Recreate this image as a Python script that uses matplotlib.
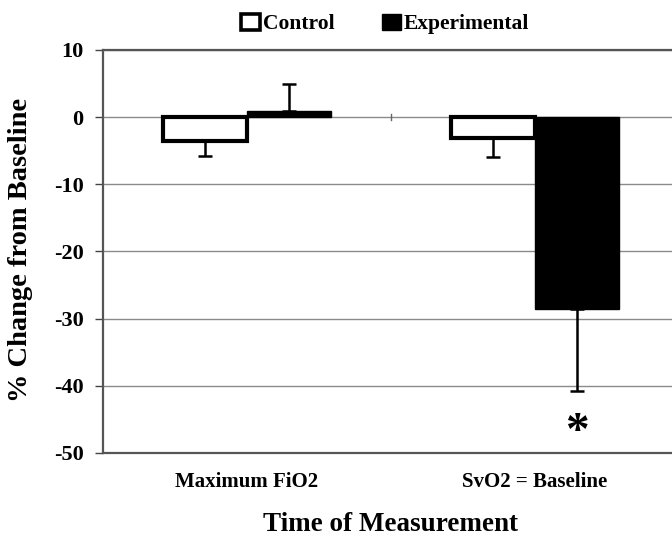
import numpy as np
from matplotlib import pyplot as plt
from matplotlib.patches import Patch

# Dados
categorias = ["Maximum FiO2", "SvO2 = Baseline"]
controle = [-3.5, -3.1]
controle_erro = [2.3, 2.9]
experimental = [0.9, -28.6]
experimental_erro = [4.1, 12.2]
yticks = [10, 0, -10, -20, -30, -40, -50]

plt.rcParams['font.family'] = ['Liberation Serif', 'DejaVu Serif']
plt.rcParams['font.weight'] = 'bold'

fig = plt.figure(figsize=(6.72, 5.37), dpi=100)
ax = fig.add_axes([103 / 672, 84 / 537, 576 / 672, 403 / 537])

x = np.arange(len(categorias))
w = 0.292

ax.set_axisbelow(True)
ax.yaxis.grid(True, color='#8a8a8a', lw=1.0)

# erro só no sentido da barra
ctrl_err = np.array([controle_erro, [0, 0]])
exp_err = np.array([[0 if v > 0 else e for v, e in zip(experimental, experimental_erro)],
                    [e if v > 0 else 0 for v, e in zip(experimental, experimental_erro)]])

ekw = dict(ecolor='black', elinewidth=1.8, capsize=5, capthick=1.8)
ax.bar(x - w / 2, controle, w, color='white', edgecolor='black', lw=3.0,
       yerr=ctrl_err, error_kw=ekw, zorder=3)
ax.bar(x + w / 2, experimental, w, color='black', edgecolor='black', lw=1,
       yerr=exp_err, error_kw=ekw, zorder=3)

# asterisco de significância
ax.text(x[1] + w / 2, -47.0, '*', ha='center', va='center', fontsize=34, fontweight='bold')

ax.set_xlim(-0.5, 1.5)
ax.set_ylim(-50, 10)
ax.set_yticks(yticks)
ax.set_yticklabels([str(t) for t in yticks], fontsize=16, fontweight='bold')
ax.set_xticks(x)
ax.set_xticklabels(categorias, fontsize=15, fontweight='bold')
ax.tick_params(axis='x', length=0, pad=14)
ax.tick_params(axis='y', length=6, width=1, color='#444444', pad=8)

# marca central do eixo de categorias na linha do zero
z = (0 - (-50)) / 60
ax.axvline(0.5, ymin=z - 0.008, ymax=z + 0.008, color='#666666', lw=1)

for s in ['left', 'top', 'bottom', 'right']:
    ax.spines[s].set_color('#555555')
    ax.spines[s].set_linewidth(1.6)

ax.set_ylabel('% Change from Baseline', fontsize=20.5, fontweight='bold')
ax.yaxis.set_label_coords(-0.1215, 0.504)
ax.set_xlabel('Time of Measurement', fontsize=19.5, fontweight='bold', labelpad=14)

handles = [Patch(facecolor='white', edgecolor='black', lw=2.6, label='Control'),
           Patch(facecolor='black', edgecolor='black', label='Experimental')]
fig.legend(handles=handles, loc='center', bbox_to_anchor=(385 / 672, 1 - 24 / 537), ncol=2,
           frameon=False, prop=dict(size=15.5, weight='bold'), handlelength=0.9, handleheight=0.75,
           handletextpad=0.12, columnspacing=2.2, borderpad=0)

fig.savefig('out.png', dpi=100)
